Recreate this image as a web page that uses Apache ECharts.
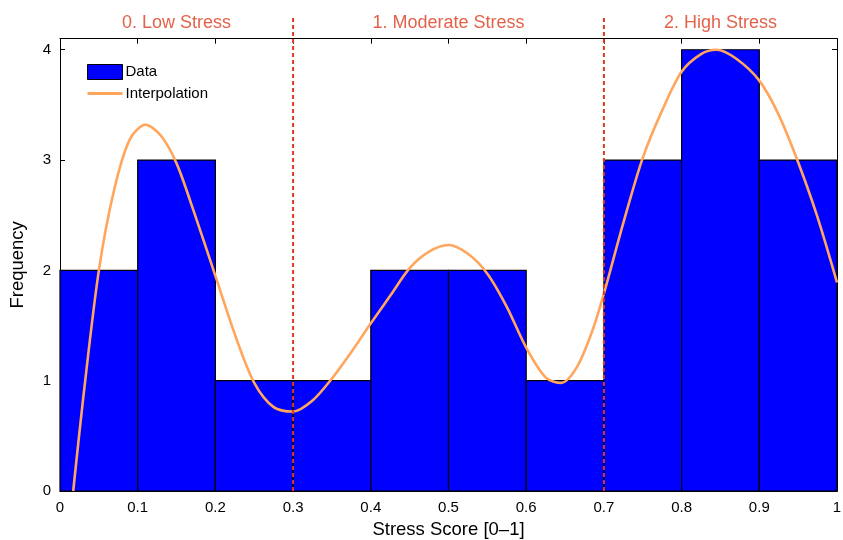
<!DOCTYPE html>
<html>
<head>
<meta charset="utf-8">
<script src="https://cdn.jsdelivr.net/npm/echarts@6/dist/echarts.min.js"></script>
<style>html,body{margin:0;padding:0;background:#fff}#c{width:843px;height:540px}</style>
</head>
<body>
<div id="c"></div>
<script>
// Histogram bins
const binStarts = [0, 0.1, 0.2, 0.3, 0.4, 0.5, 0.6, 0.7, 0.8, 0.9];
const binEnds   = [0.1, 0.2, 0.3, 0.4, 0.5, 0.6, 0.7, 0.8, 0.9, 1.0];
const counts    = [2, 3, 1, 1, 2, 2, 1, 3, 4, 3];

// Interpolation curve
const curveX = [0.017, 0.03, 0.05, 0.07, 0.09, 0.11, 0.13, 0.15, 0.17, 0.2, 0.225, 0.25, 0.275, 0.3, 0.325, 0.35, 0.375, 0.4, 0.425, 0.45, 0.475, 0.5, 0.525, 0.55, 0.575, 0.6, 0.625, 0.645, 0.665, 0.685, 0.7, 0.725, 0.75, 0.775, 0.8, 0.825, 0.845, 0.87, 0.9, 0.925, 0.95, 0.975, 1.0];
const curveY = [0, 0.85, 2.0, 2.74, 3.19, 3.32, 3.22, 2.97, 2.58, 1.95, 1.42, 0.98, 0.76, 0.72, 0.82, 1.02, 1.26, 1.52, 1.77, 2.02, 2.17, 2.23, 2.15, 1.97, 1.67, 1.30, 1.03, 0.98, 1.12, 1.45, 1.79, 2.43, 3.02, 3.45, 3.80, 3.96, 4.0, 3.92, 3.72, 3.41, 2.98, 2.48, 1.89];

// Region boundaries and labels
const boundaries = [0.3, 0.7];
const regionNames = ['0. Low Stress', '1. Moderate Stress', '2. High Stress'];
const regionCenters = [0.15, 0.5, 0.85];

const xTicks = [0, 0.1, 0.2, 0.3, 0.4, 0.5, 0.6, 0.7, 0.8, 0.9, 1];
const yTicks = [0, 1, 2, 3, 4];

const FONT = 'Liberation Sans';
const RED = '#dc3a1c';
const ORANGE = '#ffa65c';

const chart = echarts.init(document.getElementById('c'), null, {renderer: 'canvas'});

const histData = binStarts.map((s, i) => [s, binEnds[i], counts[i]]);
const curveData = curveX.map((x, i) => [x, curveY[i]]);

const boundarySeries = boundaries.map(b => ({
  type: 'line',
  name: 'bound' + b,
  data: [[b, 0], [b, 4.3]],
  clip: false,
  symbol: 'none',
  silent: true,
  z: 5,
  lineStyle: {color: RED, width: 2, type: [4, 3]}
}));

const axisCommon = {
  type: 'value',
  axisLine: {show: true, onZero: false, lineStyle: {color: '#000', width: 1}},
  axisTick: {show: true, inside: true, length: 5, lineStyle: {color: '#000'}},
  splitLine: {show: false}
};

const option = {
  animation: false,
  backgroundColor: '#fff',
  textStyle: {fontFamily: FONT},
  grid: {left: 60, right: 6, top: 38.7, bottom: 49, containLabel: false, outerBoundsMode: 'none'},
  legend: {
    show: true,
    orient: 'vertical',
    left: 81,
    top: 59,
    itemWidth: 35,
    itemHeight: 15,
    itemGap: 6,
    data: [
      {name: 'Data', icon: 'rect', itemStyle: {color: '#0000ff', borderColor: '#000', borderWidth: 1}},
      {name: 'Interpolation', itemStyle: {opacity: 0, borderWidth: 0}, lineStyle: {color: ORANGE, width: 3}}
    ],
    textStyle: {fontFamily: FONT, fontSize: 15, color: '#000', padding: [0, 0, 0, -2]}
  },
  xAxis: [
    Object.assign({}, axisCommon, {
      position: 'bottom', min: 0, max: 1, interval: 0.1,
      name: 'Stress Score [0\u20131]', nameLocation: 'middle', nameGap: 29,
      nameTextStyle: {fontFamily: FONT, fontSize: 18.5, color: '#000'},
      axisLabel: {customValues: xTicks, fontFamily: FONT, fontSize: 15, color: '#000', margin: 9,
        formatter: v => (Math.round(v * 10) / 10).toString()},
      axisTick: {show: true, inside: true, length: 5, customValues: xTicks, lineStyle: {color: '#000'}}
    }),
    Object.assign({}, axisCommon, {
      position: 'top', min: 0, max: 1, interval: 0.1,
      axisLabel: {show: false},
      axisTick: {show: true, inside: true, length: 5, customValues: xTicks, lineStyle: {color: '#000'}}
    })
  ],
  yAxis: [
    Object.assign({}, axisCommon, {
      position: 'left', min: 0, max: 4.1, interval: 1,
      name: 'Frequency', nameLocation: 'middle', nameGap: 33, nameRotate: 90,
      nameTextStyle: {fontFamily: FONT, fontSize: 18.5, color: '#000'},
      axisLabel: {customValues: yTicks, fontFamily: FONT, fontSize: 15, color: '#000', margin: 9},
      axisTick: {show: true, inside: true, length: 5, customValues: yTicks, lineStyle: {color: '#000'}}
    }),
    Object.assign({}, axisCommon, {
      position: 'right', min: 0, max: 4.1, interval: 1,
      axisLabel: {show: false},
      axisTick: {show: true, inside: true, length: 5, customValues: yTicks, lineStyle: {color: '#000'}}
    })
  ],
  series: [
    {
      type: 'custom',
      name: 'Data',
      xAxisIndex: 0, yAxisIndex: 0,
      data: histData,
      z: 2,
      itemStyle: {color: '#0000ff', borderColor: '#000', borderWidth: 1},
      renderItem: function (params, api) {
        const p0 = api.coord([api.value(0), api.value(2)]);
        const p1 = api.coord([api.value(1), 0]);
        return {
          type: 'rect',
          shape: {x: p0[0], y: p0[1], width: p1[0] - p0[0], height: p1[1] - p0[1]},
          style: {fill: '#0000ff', stroke: '#000', lineWidth: 1.2}
        };
      },
      encode: {x: [0, 1], y: 2}
    },
    {
      type: 'line',
      name: 'Interpolation',
      xAxisIndex: 0, yAxisIndex: 0,
      data: curveData,
      smooth: 0.3,
      symbol: 'none',
      z: 4,
      itemStyle: {color: ORANGE},
      lineStyle: {color: ORANGE, width: 2.6}
    },
    ...boundarySeries,
    {
      type: 'scatter',
      name: 'regions',
      data: regionCenters.map((c, i) => ({value: [c, 4.24], name: regionNames[i]})),
      symbolSize: 0,
      clip: false,
      silent: true,
      label: {show: true, position: 'inside', formatter: p => p.name,
        fontFamily: FONT, fontSize: 18, color: RED}
    }
  ]
};
chart.setOption(option);
</script>
</body>
</html>
